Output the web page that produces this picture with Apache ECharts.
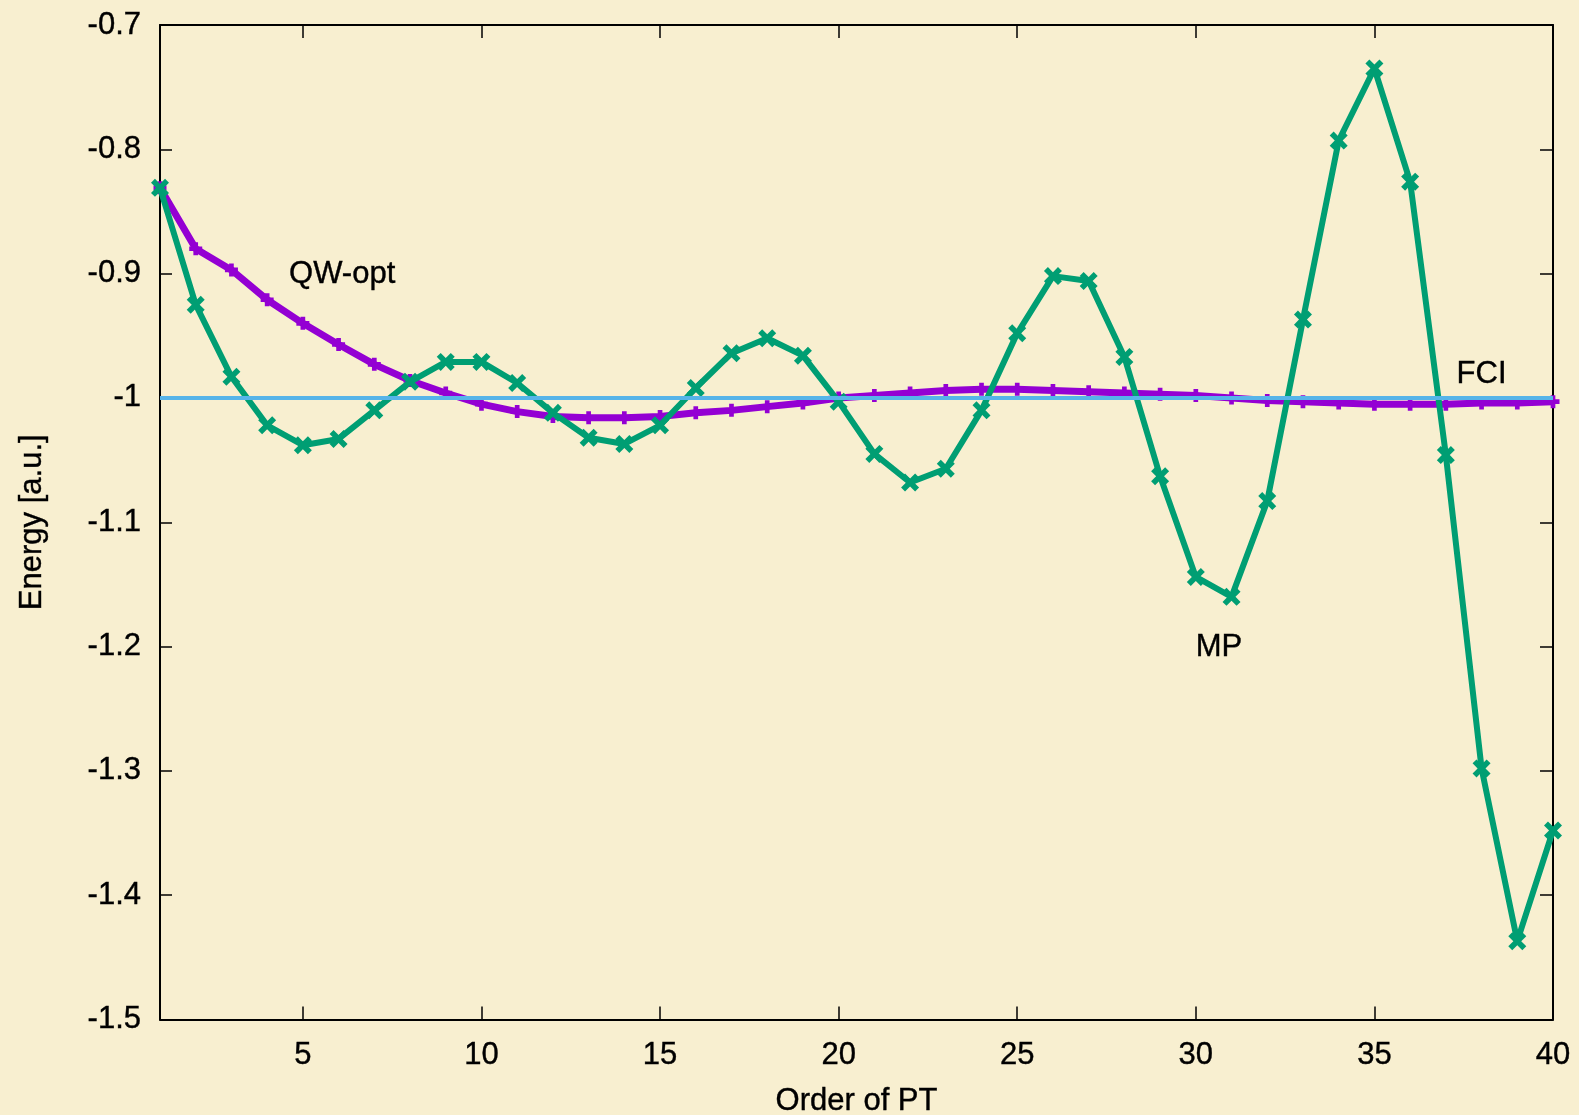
<!DOCTYPE html>
<html>
<head>
<meta charset="utf-8">
<script src="https://cdn.jsdelivr.net/npm/echarts@6/dist/echarts.min.js"></script>
<style>
html,body{margin:0;padding:0;background:#F8EFD0;}
#chart{width:1579px;height:1115px;}
</style>
</head>
<body>
<div id="chart"></div>
<script>
// ---- data ----
const orders = [1,2,3,4,5,6,7,8,9,10,11,12,13,14,15,16,17,18,19,20,21,22,23,24,25,26,27,28,29,30,31,32,33,34,35,36,37,38,39,40];
const mpValues = [-0.831,-0.925,-0.983,-1.022,-1.038,-1.033,-1.010,-0.987,-0.971,-0.971,
  -0.988,-1.012,-1.032,-1.037,-1.022,-0.992,-0.964,-0.952,-0.966,-1.003,
  -1.045,-1.068,-1.057,-1.010,-0.948,-0.902,-0.906,-0.967,-1.063,-1.144,
  -1.160,-1.083,-0.937,-0.793,-0.735,-0.826,-1.046,-1.298,-1.437,-1.348];
const qwValues = [-0.831,-0.880,-0.897,-0.921,-0.940,-0.957,-0.973,-0.986,-0.996,-1.005,
  -1.011,-1.015,-1.016,-1.016,-1.015,-1.012,-1.010,-1.007,-1.004,-1.000,
  -0.998,-0.996,-0.994,-0.993,-0.993,-0.994,-0.995,-0.996,-0.997,-0.998,
  -1.000,-1.002,-1.003,-1.004,-1.005,-1.005,-1.005,-1.004,-1.004,-1.003];
const fciValue = -1.0;
const xTicks = [5,10,15,20,25,30,35,40];
const yTicks = [-1.5,-1.4,-1.3,-1.2,-1.1,-1.0,-0.9,-0.8,-0.7];
const labelNames = ['QW-opt','MP','FCI'];
const labelX = [6.1, 30.65, 38.0];
const labelY = [-0.901, -1.201, -0.9815];

// ---- build ----
const mpData = orders.map((o,i)=>[o, mpValues[i]]);
const qwData = orders.map((o,i)=>[o, qwValues[i]]);
const fciData = [[orders[0], fciValue],[orders[orders.length-1], fciValue]];
const annData = labelNames.map((n,i)=>({value:[labelX[i], labelY[i]], name:n}));

const FONT = '"Liberation Sans", Arial, Helvetica, sans-serif';
const crossPath = 'path://M0,2.2 L2.2,0 L5,2.8 L7.8,0 L10,2.2 L7.2,5 L10,7.8 L7.8,10 L5,7.2 L2.2,10 L0,7.8 L2.8,5 Z';
const plusPath = 'path://M3.2,0 H6.8 V3.2 H10 V6.8 H6.8 V10 H3.2 V6.8 H0 V3.2 H3.2 Z';

const axisLine = {show:true, lineStyle:{color:'#000', width:2}};
const tickStyle = {lineStyle:{color:'#000', width:1.5}};
const txt = {color:'#000', fontFamily:FONT, fontSize:31, textBorderColor:'#000', textBorderWidth:0.4};

const chart = echarts.init(document.getElementById('chart'), null, {renderer:'canvas'});
chart.setOption({
  backgroundColor:'#F8EFD0',
  animation:false,
  textStyle:{fontFamily:FONT},
  grid:{left:160, top:25, right:26, bottom:95.5, containLabel:false, outerBoundsMode:'none'},
  xAxis:[{
    type:'value', min:1, max:40, position:'bottom',
    name:'Order of PT', nameLocation:'middle', nameGap:66,
    nameTextStyle:txt,
    axisLine:axisLine,
    axisTick:{show:true, inside:true, length:13, customValues:xTicks, ...tickStyle},
    axisLabel:{show:true, customValues:xTicks, margin:20, ...txt},
    splitLine:{show:false}
  },{
    type:'value', min:1, max:40, position:'top',
    axisLine:axisLine,
    axisTick:{show:true, inside:true, length:13, customValues:xTicks, ...tickStyle},
    axisLabel:{show:false},
    splitLine:{show:false}
  }],
  yAxis:[{
    type:'value', min:-1.5, max:-0.7, position:'left',
    name:'Energy [a.u.]', nameLocation:'middle', nameGap:112, nameRotate:90,
    nameTextStyle:txt,
    axisLine:axisLine,
    axisTick:{show:true, inside:true, length:12, customValues:yTicks, ...tickStyle},
    axisLabel:{show:true, customValues:yTicks, margin:19, ...txt,
      formatter:v=>String(Math.round(v*10)/10)},
    splitLine:{show:false}
  },{
    type:'value', min:-1.5, max:-0.7, position:'right',
    axisLine:axisLine,
    axisTick:{show:true, inside:true, length:13, customValues:yTicks, ...tickStyle},
    axisLabel:{show:false},
    splitLine:{show:false}
  }],
  series:[{
    name:'QW-opt', type:'line', data:qwData, xAxisIndex:0, yAxisIndex:0,
    symbol:plusPath, symbolSize:13, showAllSymbol:true,
    lineStyle:{color:'#9400D3', width:7},
    itemStyle:{color:'#9400D3', borderWidth:0},
    z:2
  },{
    name:'MP', type:'line', data:mpData, xAxisIndex:0, yAxisIndex:0,
    symbol:crossPath, symbolSize:18, showAllSymbol:true,
    lineStyle:{color:'#009E73', width:6},
    itemStyle:{color:'#009E73', borderWidth:0},
    z:3
  },{
    name:'FCI', type:'line', data:fciData, xAxisIndex:0, yAxisIndex:0,
    symbol:'none', lineStyle:{color:'#56B4E9', width:4},
    z:4
  },{
    name:'labels', type:'scatter', data:annData, xAxisIndex:0, yAxisIndex:0,
    symbol:'circle', symbolSize:1, itemStyle:{color:'rgba(0,0,0,0)'},
    label:{show:true, position:'inside', formatter:p=>p.name, ...txt, opacity:1},
    z:5, silent:true
  }]
});
</script>
</body>
</html>
